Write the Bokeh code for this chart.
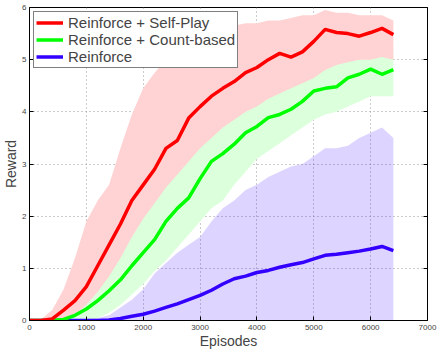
from bokeh.plotting import figure
from bokeh.models import Range1d, LinearAxis, Legend, LegendItem, FixedTicker
from bokeh.embed import file_html
from bokeh.resources import INLINE

episodes = list(range(0, 6401, 200))

selfplay_mean = [0.0, 0.0, 0.03, 0.2, 0.38, 0.65, 1.05, 1.45, 1.85, 2.3, 2.6, 2.9, 3.3, 3.45,
                 3.88, 4.1, 4.3, 4.45, 4.58, 4.75, 4.85, 5.0, 5.12, 5.05, 5.15, 5.35, 5.58,
                 5.52, 5.5, 5.45, 5.52, 5.6, 5.48]
selfplay_upper = [0.0, 0.02, 0.2, 0.6, 1.2, 1.9, 2.3, 2.6, 3.3, 3.95, 4.45, 4.75, 5.0, 5.25,
                  5.4, 5.5, 5.55, 5.6, 5.65, 5.7, 5.7, 5.75, 5.75, 5.8, 5.85, 5.85, 5.95, 5.9,
                  5.9, 5.85, 5.85, 5.85, 5.75]
selfplay_lower = [0.0, 0.0, 0.0, 0.0, 0.1, 0.3, 0.55, 0.85, 1.2, 1.6, 1.95, 2.25, 2.55, 2.8,
                  3.05, 3.3, 3.5, 3.7, 3.85, 4.0, 4.1, 4.25, 4.35, 4.45, 4.55, 4.65, 4.8, 4.9,
                  4.95, 5.0, 5.0, 5.05, 5.0]

count_mean = [0.0, 0.0, 0.0, 0.02, 0.1, 0.22, 0.38, 0.57, 0.78, 1.05, 1.3, 1.55, 1.9, 2.15,
              2.35, 2.72, 3.05, 3.2, 3.38, 3.6, 3.72, 3.89, 3.95, 4.05, 4.2, 4.4, 4.45, 4.48,
              4.65, 4.72, 4.82, 4.72, 4.81]
count_upper = [0.0, 0.0, 0.02, 0.1, 0.3, 0.6, 0.9, 1.25, 1.6, 1.95, 2.3, 2.6, 2.9, 3.15, 3.4,
               3.65, 3.85, 4.0, 4.15, 4.3, 4.4, 4.5, 4.6, 4.7, 4.8, 4.95, 5.0, 5.05, 5.15, 5.2,
               5.25, 5.25, 5.25]
count_lower = [0.0, 0.0, 0.0, 0.0, 0.0, 0.0, 0.05, 0.15, 0.3, 0.5, 0.7, 0.95, 1.15, 1.4, 1.65,
               1.9, 2.15, 2.3, 2.6, 2.85, 3.1, 3.25, 3.4, 3.55, 3.7, 3.85, 3.95, 4.0, 4.1, 4.2,
               4.3, 4.3, 4.3]

reinforce_mean = [0.0, 0.0, 0.0, 0.0, 0.0, 0.0, 0.0, 0.01, 0.04, 0.08, 0.12, 0.18, 0.25, 0.32,
                  0.4, 0.48, 0.58, 0.7, 0.8, 0.85, 0.92, 0.96, 1.02, 1.07, 1.11, 1.18, 1.25,
                  1.27, 1.3, 1.33, 1.37, 1.42, 1.34]
reinforce_upper = [0.02, 0.02, 0.02, 0.02, 0.02, 0.03, 0.05, 0.1, 0.25, 0.4, 0.6, 0.9, 1.1,
                   1.3, 1.45, 1.6, 1.9, 2.15, 2.3, 2.5, 2.6, 2.75, 2.85, 2.95, 3.0, 3.15, 3.3,
                   3.3, 3.35, 3.5, 3.6, 3.7, 3.5]
reinforce_lower = [0.0] * len(episodes)

x_ticks = [0, 1000, 2000, 3000, 4000, 5000, 6000, 7000]
y_ticks = [0, 1, 2, 3, 4, 5, 6]

FONT = "Liberation Sans"

p = figure(width=447, height=352, output_backend="svg", toolbar_location=None,
           x_range=Range1d(0, 7000), y_range=Range1d(0, 6),
           min_border_left=0, min_border_right=20, min_border_top=7, min_border_bottom=32)

p.varea(episodes, count_lower, count_upper, fill_color="#dcffdc", fill_alpha=1.0)
p.varea(episodes, selfplay_lower, selfplay_upper, fill_color="#ffd3d3", fill_alpha=1.0)
p.varea(episodes, reinforce_lower, reinforce_upper, fill_color="#3300ff", fill_alpha=0.17)

r_blue = p.line(episodes, reinforce_mean, line_color="#3300ff", line_width=3.5)
r_green = p.line(episodes, count_mean, line_color="#00ff00", line_width=3.5)
r_red = p.line(episodes, selfplay_mean, line_color="#ff0000", line_width=3.5)

legend = Legend(items=[
    LegendItem(label="Reinforce + Self-Play", renderers=[r_red]),
    LegendItem(label="Reinforce + Count-based", renderers=[r_green]),
    LegendItem(label="Reinforce", renderers=[r_blue]),
], location="top_left")
legend.border_line_color = "black"
legend.border_line_width = 1
legend.label_text_font = FONT
legend.label_text_font_size = "15px"
legend.label_text_line_height = 1.0
legend.label_height = 15
legend.glyph_height = 15
legend.glyph_width = 27
legend.spacing = 0
legend.padding = 2
legend.margin = 4
legend.label_standoff = 5
legend.background_fill_alpha = 1.0
p.add_layout(legend)

p.outline_line_color = "black"
p.outline_line_width = 1
p.background_fill_color = "white"

for ax in (p.xaxis[0], p.yaxis[0]):
    ax.major_tick_in = 4
    ax.major_tick_out = 0
    ax.minor_tick_line_color = None
    ax.axis_line_color = "black"
    ax.major_label_text_font = FONT
    ax.major_label_text_font_size = "8px"
    ax.axis_label_text_font = FONT
    ax.axis_label_text_font_size = "14px"
    ax.axis_label_text_font_style = "normal"

p.xaxis[0].ticker = FixedTicker(ticks=x_ticks)
p.yaxis[0].ticker = FixedTicker(ticks=y_ticks)
p.xaxis[0].axis_label = "Episodes"
p.yaxis[0].axis_label = "Reward"
p.xaxis[0].major_label_standoff = 4
p.xaxis[0].axis_label_standoff = 0
p.yaxis[0].major_label_standoff = 3
p.yaxis[0].axis_label_standoff = 0

right_ax = LinearAxis(ticker=FixedTicker(ticks=y_ticks), major_tick_in=4, major_tick_out=0,
                      minor_tick_line_color=None, major_label_standoff=0,
                      major_label_overrides={t: "" for t in y_ticks})
p.add_layout(right_ax, "right")

p.xgrid.ticker = FixedTicker(ticks=x_ticks)
p.ygrid.ticker = FixedTicker(ticks=y_ticks)
p.grid.grid_line_color = "#999999"
p.grid.grid_line_dash = "1 3"
p.grid.grid_line_width = 1

open("out.html", "w").write(file_html(p, INLINE))
